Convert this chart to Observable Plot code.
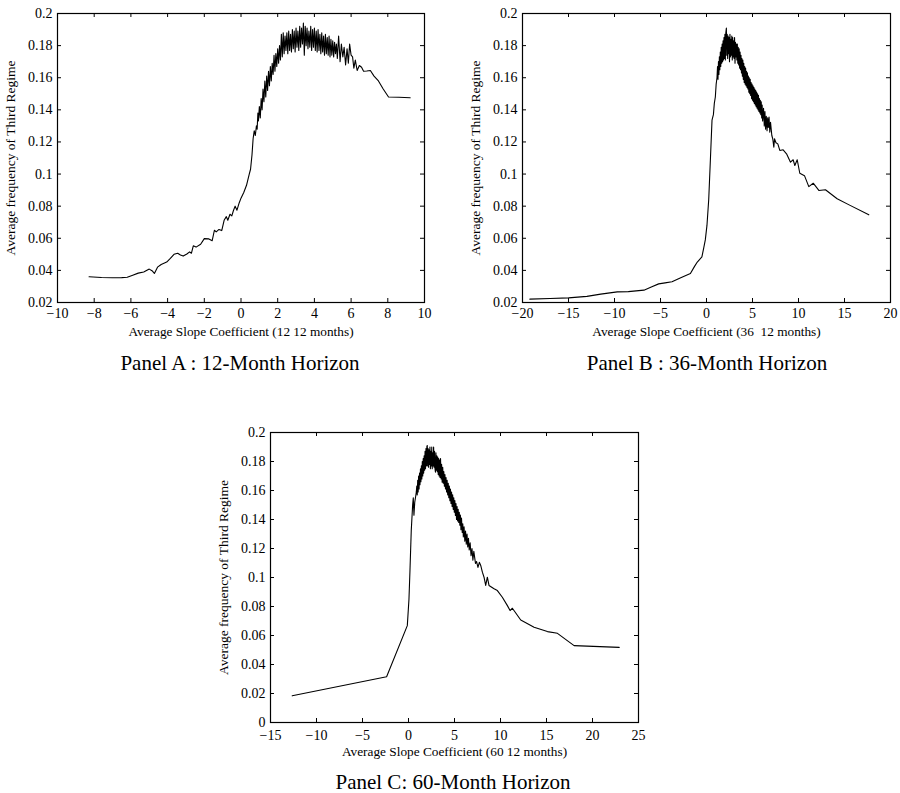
<!DOCTYPE html>
<html>
<head>
<meta charset="utf-8">
<script src="https://cdn.jsdelivr.net/npm/d3@7"></script>
<script src="https://cdn.jsdelivr.net/npm/@observablehq/plot@0.6"></script>
<style>
  html, body { margin: 0; padding: 0; background: #fff; }
  #wrap { position: relative; width: 900px; height: 793px; font-family: "Liberation Serif", "Times New Roman", serif; color: #000; }
  .panel { position: absolute; }
  .title { position: absolute; font-size: 21px; white-space: nowrap; transform: translate(-50%, -50%); }
</style>
</head>
<body>
<div id="wrap"></div>
<script>
// ---------- Panel A : 12-month horizon ----------
const xA = [-8.28,-7.6,-7.0,-6.5,-6.2,-5.9,-5.6,-5.3,-5.0,-4.85,-4.72,-4.55,-4.35,-4.05,-3.85,-3.65,-3.45,-3.3,-3.15,-2.95,-2.8,-2.7,-2.6,-2.45,-2.2,-2.0,-1.75,-1.57,-1.45,-1.35,-1.2,-1.05,-0.92,-0.8,-0.72,-0.6,-0.5,-0.42,-0.32,-0.22,-0.1,0.0,0.15,0.3,0.45,0.52,0.6,0.66,0.72,0.78,0.84,0.88,0.92,
0.95,1.00,1.05,1.10,1.15,1.20,1.25,1.30,1.35,1.40,1.45,1.50,1.55,1.60,1.65,1.70,1.75,1.80,1.85,1.90,1.95,2.00,2.05,2.10,2.15,2.20,2.25,2.30,2.35,2.40,2.45,2.50,2.55,2.60,2.65,2.70,2.75,2.80,2.85,2.90,2.95,3.00,3.05,3.10,3.15,3.20,3.25,3.30,3.35,3.40,3.45,3.50,3.55,3.60,3.65,3.70,3.75,3.80,3.85,3.90,3.95,4.00,4.05,4.10,4.15,4.20,4.25,4.30,4.35,4.40,4.45,4.50,4.55,4.60,4.65,4.70,4.75,4.80,4.85,4.90,4.95,5.00,5.05,5.10,5.15,5.20,5.25,5.32,5.40,5.47,5.55,5.62,5.70,5.78,5.85,5.92,6.00,6.08,6.15,6.23,6.33,6.45,6.57,6.68,6.85,7.05,7.25,7.49,7.75,8.04,8.6,9.22];
const yA = [0.0360,0.0356,0.0354,0.0355,0.0357,0.0370,0.0383,0.0390,0.0408,0.0398,0.0381,0.0420,0.0437,0.0452,0.0475,0.0500,0.0507,0.0496,0.0489,0.0502,0.0515,0.0507,0.0553,0.0545,0.0563,0.0598,0.0596,0.0585,0.0650,0.0640,0.0655,0.0648,0.0712,0.0735,0.0712,0.0750,0.0740,0.0770,0.0800,0.0775,0.0820,0.0850,0.0885,0.0930,0.1000,0.1030,0.1120,0.1220,0.1270,0.1240,0.1300,0.1280,0.1380,
0.133,0.142,0.135,0.147,0.140,0.153,0.145,0.158,0.148,0.161,0.152,0.164,0.155,0.167,0.158,0.169,0.162,0.174,0.164,0.175,0.167,0.178,0.169,0.180,0.171,0.187,0.173,0.188,0.175,0.186,0.177,0.188,0.175,0.189,0.177,0.187,0.176,0.190,0.178,0.189,0.176,0.191,0.179,0.189,0.177,0.192,0.179,0.191,0.181,0.194,0.174,0.192,0.180,0.191,0.178,0.189,0.179,0.192,0.177,0.190,0.179,0.191,0.177,0.189,0.176,0.190,0.177,0.187,0.175,0.188,0.176,0.186,0.174,0.187,0.175,0.185,0.174,0.186,0.173,0.184,0.174,0.183,0.173,0.182,0.175,0.181,0.172,0.186,0.170,0.181,0.173,0.179,0.168,0.178,0.169,0.181,0.174,0.173,0.166,0.171,0.1645,0.1676,0.1665,0.164,0.1642,0.1645,0.161,0.158,0.153,0.148,0.1478,0.1475];

// ---------- Panel B : 36-month horizon ----------
const xB = [-19.2,-17,-15,-13,-11.5,-9.7,-8.5,-6.8,-6.0,-5.2,-4.5,-3.75,-2.8,-1.75,-1.3,-1.0,-0.5,-0.3,-0.13,0.05,0.24,0.42,0.6,0.75,0.85,0.96,1.05,1.14,
1.20,1.25,1.30,1.35,1.40,1.45,1.50,1.55,1.60,1.65,1.70,1.75,1.80,1.85,1.90,1.95,2.00,2.05,2.10,2.16,2.20,2.25,2.30,2.35,2.40,2.45,2.50,2.55,2.60,2.65,2.70,2.75,2.80,2.85,2.90,2.95,3.00,3.05,3.10,3.15,3.20,3.25,3.30,3.35,3.40,3.45,3.50,3.55,3.60,3.65,3.70,3.75,3.80,3.85,3.90,3.95,4.00,4.05,4.10,4.15,4.20,4.25,4.30,4.35,4.40,4.45,4.50,4.55,4.60,4.65,4.70,4.75,4.80,4.85,4.90,4.95,5.00,5.05,5.10,5.15,5.20,5.25,5.30,5.35,5.40,5.45,5.50,5.55,5.60,5.65,5.70,5.75,5.80,5.85,5.90,5.95,6.00,6.05,6.10,6.20,6.28,6.35,6.42,6.50,6.58,6.65,6.72,6.80,6.88,6.96,7.10,7.20,7.32,7.39,7.55,7.75,7.97,8.33,8.70,9.13,9.42,9.60,9.86,10.14,10.65,11.12,11.60,12.21,12.93,14.20,15.5,17.64];
const yB = [0.0221,0.0225,0.0229,0.0238,0.0252,0.0266,0.0268,0.0277,0.0297,0.0316,0.0322,0.0329,0.0354,0.0380,0.0425,0.0452,0.0484,0.0540,0.0590,0.0680,0.0840,0.1086,0.1336,0.1370,0.1440,0.1480,0.1560,0.1600,
0.167,0.159,0.170,0.162,0.173,0.165,0.176,0.167,0.179,0.169,0.181,0.170,0.183,0.171,0.185,0.172,0.187,0.171,0.188,0.191,0.174,0.187,0.172,0.186,0.175,0.185,0.170,0.187,0.173,0.184,0.174,0.186,0.171,0.185,0.173,0.183,0.172,0.185,0.169,0.182,0.173,0.181,0.171,0.181,0.169,0.179,0.168,0.178,0.166,0.176,0.165,0.174,0.163,0.172,0.161,0.171,0.159,0.169,0.157,0.167,0.156,0.166,0.155,0.164,0.154,0.163,0.153,0.161,0.151,0.160,0.150,0.159,0.149,0.157,0.147,0.156,0.146,0.155,0.145,0.154,0.144,0.153,0.143,0.152,0.142,0.151,0.141,0.150,0.140,0.149,0.139,0.147,0.138,0.146,0.137,0.145,0.135,0.143,0.133,0.141,0.130,0.139,0.128,0.136,0.127,0.135,0.129,0.1355,0.126,0.1323,0.124,0.122,0.1167,0.122,0.1195,0.1188,0.1147,0.1151,0.1126,0.1074,0.1089,0.1053,0.1089,0.1005,0.0990,0.0922,0.0943,0.0898,0.0902,0.0846,0.0808,0.0746];

// ---------- Panel C : 60-month horizon ----------
const xC = [-12.64,-2.38,-0.13,0.05,0.16,0.30,0.45,0.52,0.59,0.68,0.77,0.85,
0.90,0.95,1.00,1.05,1.10,1.15,1.20,1.25,1.30,1.35,1.40,1.45,1.50,1.55,1.60,1.65,1.70,1.75,1.80,1.85,1.90,1.95,2.00,2.04,2.08,2.13,2.18,2.23,2.28,2.33,2.38,2.43,2.48,2.53,2.58,2.63,2.68,2.73,2.78,2.83,2.88,2.93,2.98,3.03,3.08,3.13,3.18,3.23,3.28,3.33,3.38,3.43,3.48,3.55,3.60,3.66,3.72,3.78,3.84,3.90,3.96,4.02,4.08,4.14,4.20,4.26,4.32,4.38,4.44,4.50,4.56,4.62,4.68,4.74,4.80,4.86,4.92,4.98,5.04,5.10,5.16,5.22,5.28,5.34,5.40,5.46,5.52,5.58,5.64,5.70,5.76,5.84,5.90,5.96,6.04,6.12,6.20,6.28,6.36,6.44,6.52,6.60,6.70,6.80,6.90,7.00,7.10,7.28,7.40,7.55,7.70,7.85,8.03,8.21,8.39,8.57,8.75,9.30,9.66,10.2,10.75,11.04,11.29,12.2,13.65,15.1,16.19,18.0,22.9];
const yC = [0.0184,0.0316,0.0668,0.085,0.1048,0.1325,0.150,0.155,0.143,0.152,0.1555,0.159,
0.163,0.157,0.167,0.159,0.170,0.161,0.172,0.164,0.175,0.166,0.177,0.168,0.180,0.170,0.182,0.172,0.184,0.174,0.187,0.175,0.189,0.177,0.1905,0.191,0.177,0.189,0.176,0.188,0.178,0.190,0.175,0.187,0.177,0.190,0.175,0.186,0.177,0.190,0.176,0.187,0.175,0.1726,0.186,0.174,0.184,0.173,0.183,0.171,0.182,0.170,0.181,0.169,0.182,0.168,0.178,0.1657,0.176,0.165,0.173,0.163,0.171,0.161,0.169,0.159,0.167,0.157,0.165,0.155,0.163,0.153,0.161,0.151,0.159,0.149,0.157,0.147,0.155,0.145,0.153,0.1428,0.151,0.140,0.149,0.139,0.147,0.138,0.145,0.136,0.143,0.133,0.141,0.131,0.137,0.128,0.135,0.125,0.132,0.123,0.130,0.121,0.127,0.119,0.124,0.115,0.120,0.112,0.118,0.1097,0.111,0.107,0.1105,0.1083,0.1037,0.1002,0.0945,0.1002,0.0945,0.0922,0.091,0.0864,0.0806,0.0772,0.0788,0.0707,0.0657,0.0627,0.0615,0.053,0.0518];

// tick values and labels
const xTicksA = [-10,-8,-6,-4,-2,0,2,4,6,8,10];
const xTicksB = [-20,-15,-10,-5,0,5,10,15,20];
const xTicksC = [-15,-10,-5,0,5,10,15,20,25];
const yTicksAB = [0.02,0.04,0.06,0.08,0.1,0.12,0.14,0.16,0.18,0.2];
const yTicksC = [0,0.02,0.04,0.06,0.08,0.1,0.12,0.14,0.16,0.18,0.2];
const yLabel = "Average frequency of Third Regime";
const xLabels = ["Average Slope Coefficient (12 12 months)", "Average Slope Coefficient (36\u00a0 12 months)", "Average Slope Coefficient (60 12 months)"];
const titles = ["Panel A : 12-Month Horizon", "Panel B : 36-Month Horizon", "Panel C: 60-Month Horizon"];

const fmtX = d => d < 0 ? "\u2212" + (-d) : String(d);
const fmtY = d => String(+d.toFixed(2));
const zip = (xs, ys) => xs.map((x, i) => ({x, y: ys[i]}));

function panel({xs, ys, xDomain, yDomain, xTicks, yTicks, xLabel, left, top, width, height, mL, mR, mT, mB, xPad}) {
  const innerH = height - mT - mB, innerW = width - mL - mR, tk = 4;
  const chart = Plot.plot({
    width, height,
    marginLeft: mL, marginRight: mR, marginTop: mT, marginBottom: mB,
    style: {fontFamily: '"Liberation Serif", "Times New Roman", serif', fontSize: "14px", color: "#000", background: "transparent"},
    x: {domain: xDomain},
    y: {domain: yDomain},
    marks: [
      Plot.frame({stroke: "#000", strokeWidth: 1.2}),
      Plot.tickX(xTicks, {x: d => d, insetTop: innerH - tk, stroke: "#000"}),
      Plot.tickX(xTicks, {x: d => d, insetBottom: innerH - tk, stroke: "#000"}),
      Plot.tickY(yTicks, {y: d => d, insetRight: innerW - tk, stroke: "#000"}),
      Plot.tickY(yTicks, {y: d => d, insetLeft: innerW - tk, stroke: "#000"}),
      Plot.axisX({ticks: xTicks, tickSize: 0, tickPadding: xPad, tickFormat: fmtX, label: xLabel, labelAnchor: "center", labelOffset: 33, labelArrow: "none", fontSize: 14}),
      Plot.axisY({ticks: yTicks, tickSize: 0, tickPadding: 5, tickFormat: fmtY, label: yLabel, labelAnchor: "center", labelOffset: 52, labelArrow: "none", fontSize: 14}),
      Plot.line(zip(xs, ys), {x: "x", y: "y", stroke: "#000", strokeWidth: 1.1})
    ]
  });
  chart.classList.add("panel");
  chart.style.left = left + "px";
  chart.style.top = top + "px";
  chart.querySelectorAll('g[aria-label="x-axis label"] text').forEach(t => t.setAttribute("font-size", "13.3"));
  chart.querySelectorAll('g[aria-label="y-axis label"] text').forEach(t => t.setAttribute("font-size", "13.5"));
  return chart;
}

const wrap = document.getElementById("wrap");
wrap.appendChild(panel({xs: xA, ys: yA, xDomain: [-10, 10], yDomain: [0.02, 0.2], xTicks: xTicksA, yTicks: yTicksAB, xLabel: xLabels[0],
  left: 0, top: 0, width: 450, height: 345, mL: 57, mR: 26, mT: 13, mB: 43, xPad: 6}));
wrap.appendChild(panel({xs: xB, ys: yB, xDomain: [-20, 20], yDomain: [0.02, 0.2], xTicks: xTicksB, yTicks: yTicksAB, xLabel: xLabels[1],
  left: 450, top: 0, width: 450, height: 345, mL: 72, mR: 10, mT: 13, mB: 43, xPad: 6}));
wrap.appendChild(panel({xs: xC, ys: yC, xDomain: [-15, 25], yDomain: [0, 0.2], xTicks: xTicksC, yTicks: yTicksC, xLabel: xLabels[2],
  left: 200, top: 420, width: 450, height: 345, mL: 70, mR: 12, mT: 12, mB: 43, xPad: 8}));

const titlePos = [[240, 363], [707, 363], [453, 782]];
titles.forEach((t, i) => {
  const d = document.createElement("div");
  d.className = "title";
  d.textContent = t;
  d.style.left = titlePos[i][0] + "px";
  d.style.top = titlePos[i][1] + "px";
  wrap.appendChild(d);
});
</script>
</body>
</html>
